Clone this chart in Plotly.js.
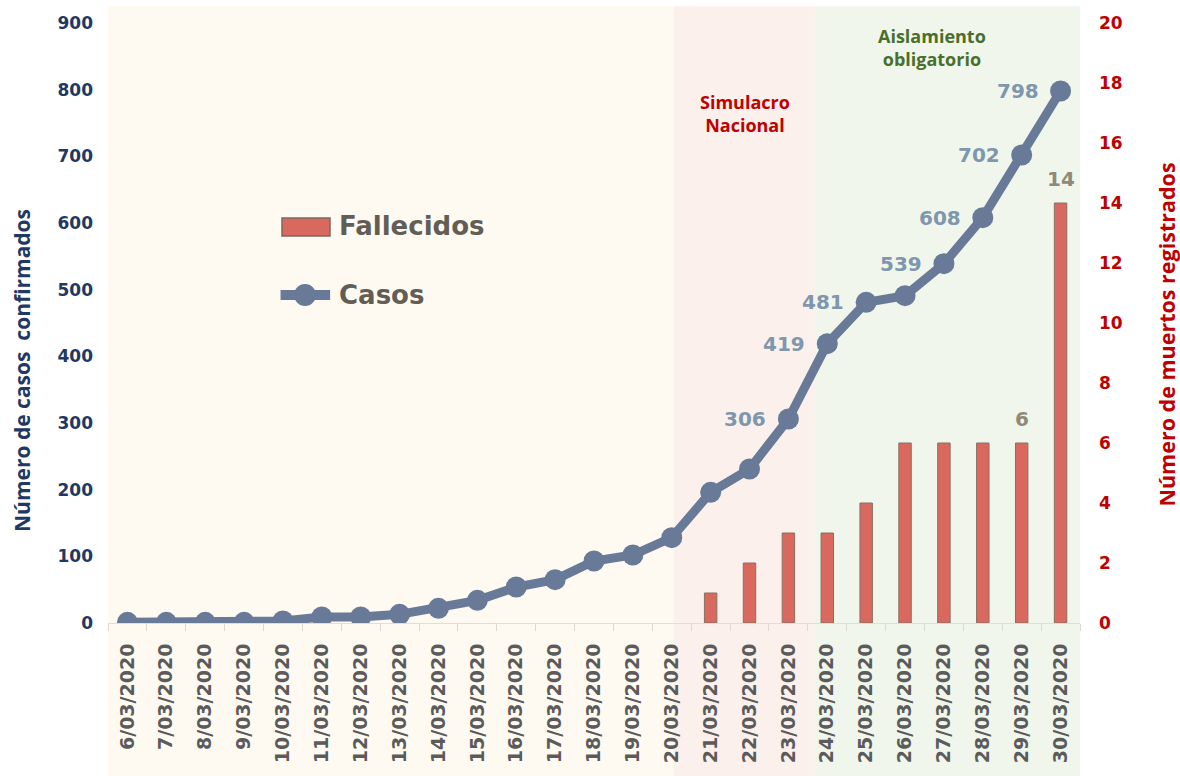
<!DOCTYPE html>
<html>
<head>
<meta charset="utf-8">
<script src="https://cdn.plot.ly/plotly-3.0.1.min.js"></script>
<style>
  html, body { margin: 0; padding: 0; background: #ffffff; }
  #chart { width: 1180px; height: 776px; }
</style>
</head>
<body>
<div id="chart"></div>
<script>
// ---- Data ----
const fechas = ['6/03/2020','7/03/2020','8/03/2020','9/03/2020','10/03/2020','11/03/2020','12/03/2020',
  '13/03/2020','14/03/2020','15/03/2020','16/03/2020','17/03/2020','18/03/2020','19/03/2020','20/03/2020',
  '21/03/2020','22/03/2020','23/03/2020','24/03/2020','25/03/2020','26/03/2020','27/03/2020','28/03/2020',
  '29/03/2020','30/03/2020'];
const casos = [1, 1, 1, 1, 3, 9, 9, 13, 22, 34, 54, 65, 93, 102, 128, 196, 231, 306, 419, 481, 491, 539, 608, 702, 798];
const fallecidos = [0, 0, 0, 0, 0, 0, 0, 0, 0, 0, 0, 0, 0, 0, 0, 1, 2, 3, 3, 4, 6, 6, 6, 6, 14];
const casosEtiquetados = ['23/03/2020','24/03/2020','25/03/2020','27/03/2020','28/03/2020','29/03/2020','30/03/2020'];
const fallecidosEtiquetados = ['29/03/2020','30/03/2020'];
const ticksCasos = [0, 100, 200, 300, 400, 500, 600, 700, 800, 900];
const ticksMuertos = [0, 2, 4, 6, 8, 10, 12, 14, 16, 18, 20];

// ---- Styles ----
const NAVY = '#1f3864';
const RED = '#c00000';
const LINE = '#687a98';
const BAR = '#d9695f';
const NUM_FONT = 'DejaVu Sans, Verdana, sans-serif';
const TXT_FONT = 'Open Sans, Noto Sans, sans-serif';

const traceBar = {
  type: 'bar', name: 'Fallecidos', x: fechas, y: fallecidos, yaxis: 'y2',
  width: 0.32,
  marker: { color: BAR, line: { color: '#8a6f62', width: fallecidos.map(v => (v > 0 ? 1 : 0)) } },
  hoverinfo: 'skip', showlegend: false
};
const traceLine = {
  type: 'scatter', mode: 'lines+markers', name: 'Casos', x: fechas, y: casos, yaxis: 'y',
  line: { color: LINE, width: 9 },
  marker: { color: LINE, size: 21 },
  hoverinfo: 'skip', showlegend: false
};

const annotations = [];
fechas.forEach((f, i) => {
  if (casosEtiquetados.includes(f)) {
    annotations.push({
      x: f, y: casos[i], xref: 'x', yref: 'y', text: String(casos[i]), showarrow: false,
      xanchor: 'right', yanchor: 'middle', xshift: -20,
      font: { family: NUM_FONT, size: 20, color: '#7e97ae', weight: 'bold' }
    });
  }
  if (fallecidosEtiquetados.includes(f)) {
    annotations.push({
      x: f, y: fallecidos[i], xref: 'x', yref: 'y2', text: String(fallecidos[i]), showarrow: false,
      xanchor: 'center', yanchor: 'bottom', yshift: 10,
      font: { family: NUM_FONT, size: 20, color: '#8f8a78', weight: 'bold' }
    });
  }
});
annotations.push({
  xref: 'paper', yref: 'paper', x: 0.6553, y: 0.850, text: 'Simulacro<br>Nacional', showarrow: false,
  xanchor: 'center', yanchor: 'middle',
  font: { family: TXT_FONT, size: 18, color: RED, weight: 'bold' }
});
annotations.push({
  xref: 'paper', yref: 'paper', x: 0.8477, y: 0.959, text: 'Aislamiento<br>obligatorio', showarrow: false,
  xanchor: 'center', yanchor: 'middle',
  font: { family: TXT_FONT, size: 18, color: '#4a6f2c', weight: 'bold' }
});
// axis titles
annotations.push({
  xref: 'paper', yref: 'paper', x: -0.0885, y: 0.4217, text: 'Número de casos  confirmados', showarrow: false,
  textangle: -90, xanchor: 'center', yanchor: 'middle',
  font: { family: TXT_FONT, size: 21, color: NAVY, weight: 'bold' }
});
annotations.push({
  xref: 'paper', yref: 'paper', x: 1.0885, y: 0.4808, text: 'Número de muertos registrados', showarrow: false,
  textangle: -90, xanchor: 'center', yanchor: 'middle',
  font: { family: TXT_FONT, size: 21.5, color: RED, weight: 'bold' }
});
// custom legend text
annotations.push({
  xref: 'paper', yref: 'paper', x: 0.2356, y: 0.6617, text: 'Fallecidos', showarrow: false,
  xanchor: 'left', yanchor: 'middle',
  font: { family: NUM_FONT, size: 26, color: '#625e56', weight: 'bold' }
});
annotations.push({
  xref: 'paper', yref: 'paper', x: 0.2356, y: 0.5467, text: 'Casos', showarrow: false,
  xanchor: 'left', yanchor: 'middle',
  font: { family: NUM_FONT, size: 26, color: '#625e56', weight: 'bold' }
});

const shapes = [
  { type: 'rect', xref: 'x', yref: 'paper', x0: -0.5, x1: 14.04, y0: -0.26, y1: 1.028,
    fillcolor: '#fefaf2', line: { width: 0 }, layer: 'below' },
  { type: 'rect', xref: 'x', yref: 'paper', x0: 14.04, x1: 17.68, y0: -0.26, y1: 1.028,
    fillcolor: '#fbf0eb', line: { width: 0 }, layer: 'below' },
  { type: 'rect', xref: 'x', yref: 'paper', x0: 17.68, x1: 24.5, y0: -0.26, y1: 1.028,
    fillcolor: '#f0f6ec', line: { width: 0 }, layer: 'below' },
  // legend symbols
  { type: 'rect', xref: 'paper', yref: 'paper', x0: 0.179, x1: 0.2284, y0: 0.645, y1: 0.675,
    fillcolor: BAR, line: { color: '#7a6a60', width: 1.5 }, layer: 'above' },
  { type: 'line', xref: 'paper', yref: 'paper', x0: 0.1775, x1: 0.2285, y0: 0.5467, y1: 0.5467,
    line: { color: LINE, width: 10 }, layer: 'above' },
  { type: 'circle', xref: 'paper', yref: 'paper', x0: 0.2027 - 0.0113, x1: 0.2027 + 0.0113,
    y0: 0.5467 - 0.0183, y1: 0.5467 + 0.0183, fillcolor: LINE, line: { width: 0 }, layer: 'above' }
];

const layout = {
  width: 1180, height: 776,
  margin: { l: 108, r: 100, t: 23, b: 153, pad: 0 },
  paper_bgcolor: '#ffffff', plot_bgcolor: 'rgba(0,0,0,0)',
  showlegend: false,
  xaxis: {
    type: 'category', range: [-0.5, 24.5], tickangle: -90,
    ticks: 'outside', tickson: 'boundaries', ticklen: 7, tickcolor: '#dcd8d2', tickwidth: 1,
    showline: true, linecolor: '#e2ddd6', linewidth: 1, showgrid: false, zeroline: false,
    ticklabelstandoff: 12,
    tickfont: { family: NUM_FONT, size: 19, color: '#5b5b5b', weight: 'bold' },
    fixedrange: true
  },
  yaxis: {
    range: [0, 900], tickvals: ticksCasos, showgrid: false, zeroline: false, showline: false,
    ticks: '', ticklabelstandoff: 14,
    tickfont: { family: NUM_FONT, size: 17, color: NAVY, weight: 'bold' },
    fixedrange: true
  },
  yaxis2: {
    range: [0, 20], tickvals: ticksMuertos, overlaying: 'y', side: 'right',
    showgrid: false, zeroline: false, showline: false, ticks: '', ticklabelstandoff: 18,
    tickfont: { family: NUM_FONT, size: 17, color: RED, weight: 'bold' },
    fixedrange: true
  },
  shapes: shapes,
  annotations: annotations
};

Plotly.newPlot('chart', [traceBar, traceLine], layout, { displayModeBar: false, staticPlot: true });
</script>
</body>
</html>
